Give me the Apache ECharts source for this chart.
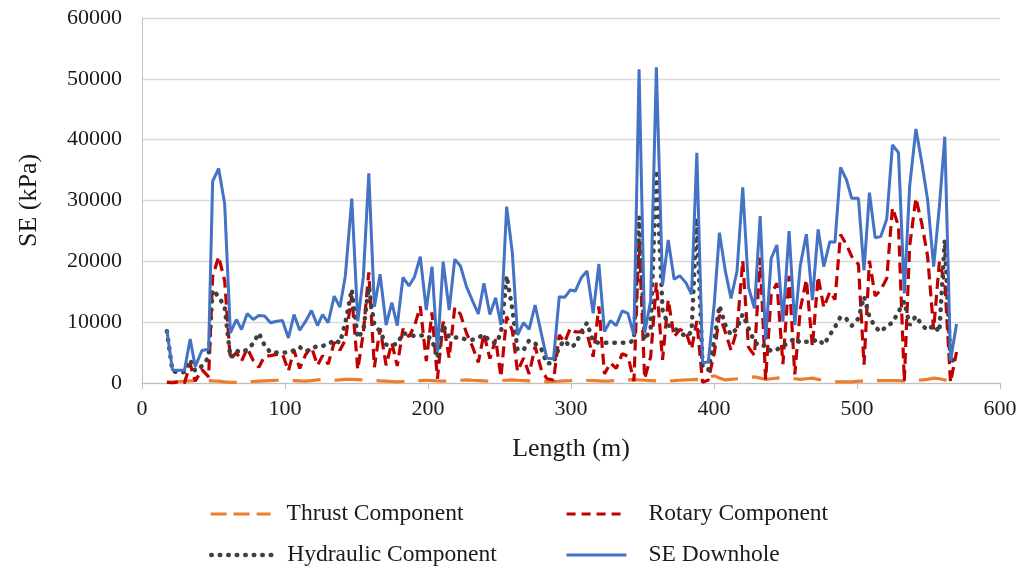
<!DOCTYPE html>
<html><head><meta charset="utf-8">
<script src="https://cdn.jsdelivr.net/npm/echarts@6/dist/echarts.min.js"></script>
<style>html,body{margin:0;padding:0;background:#fff}#c{width:1023px;height:573px}</style>
</head><body><div id="c"></div>
<script>
const lengthM = [17.4,21.3,25.5,29.7,33.7,37.2,41.9,46.6,49.4,53.6,
57.8,61.8,66,69.6,73.6,77.8,81.7,85.7,89.9,94.2,
98.2,102.4,106.3,110.3,114.5,118.5,122.7,126.3,130.2,134.4,
138.4,142.2,146.7,150.9,154.8,158.6,162.5,166.5,170.7,174.7,
178.5,182.5,186.7,190.6,194.6,198.8,202.8,206.6,210.6,214.8,
218.7,222.7,226.9,230.9,235.2,239.1,243.3,247.3,251,255,
259,262.6,266.8,270.7,274.9,279.1,283.1,287.8,291.8,295.6,
299.5,303,307.2,311.2,315.5,319.5,323.4,327.6,331.6,335.8,
339.8,344,347.6,351.5,355.7,359.7,364,368,372.1,376.1,
380.3,384.3,388,392,396,400.2,403.8,408,411.9,416.1,
420.1,424.1,428.3,432.3,436.1,440,444,448.2,452.5,456.5,
460.4,464.6,468.8,472.8,476.8,481,484.6,488.5,492.7,496.3,
501,504.9,508.7,512.7,516.6,520.8,524.8,529,533.1,536.8,
541.2,545.4,549.4,553.6,557.6,561.4,565.4,569.6];

const seDownhole = [8700,2150,2100,2100,7230,2700,5350,5550,33160,35260,
29470,8230,10430,8780,11420,10430,11100,11000,9900,10160,
10270,7400,11250,8670,10160,11920,9450,11250,9900,14290,
12470,17600,30300,10160,17480,34470,12540,17870,9530,13200,
9430,17370,15950,17480,20770,12000,19120,5150,19940,12000,
20330,19230,15830,13640,11340,16390,11250,14020,9530,28990,
21320,7890,9900,8830,12820,8270,4060,4000,14190,14090,
15290,15120,17310,18410,11460,19560,8440,10250,9430,11840,
11460,7890,51570,8270,13500,51900,16110,23510,17050,17640,
16500,14580,37860,3340,3450,13100,24710,18300,13920,18410,
32170,15780,12270,27450,7070,20500,22690,10080,24990,9530,
19400,24490,13640,25260,19120,23230,23120,35460,33370,30360,
30360,18500,31290,23890,24060,26960,39130,37860,14740,32280,
41760,36120,30080,19120,28990,40490,3670,9700];

const hydraulic = [8500,2000,1700,1800,3800,2000,2800,4200,15300,14200,
12500,4200,5300,5000,5500,6500,8200,6200,5000,5000,
5000,5000,5400,5900,5200,5600,6100,6100,6300,7100,
6600,9900,15400,7400,8700,15800,9500,8500,6300,6300,
6400,8200,8000,7700,7800,7900,7100,4100,9500,7500,
7500,7500,7100,7100,7500,7900,6900,6500,8100,17600,
12200,5500,5400,7000,6500,5700,3200,3300,6000,7000,
5900,6300,8400,9900,6800,6600,6600,6600,6600,6600,
6600,7000,27300,7100,8800,35000,12000,9500,9000,8400,
7600,8400,27100,2800,2100,7000,12700,9500,7900,9000,
11300,9000,6800,6000,6200,5200,5500,6100,6600,7400,
6600,6800,6800,7200,6300,7900,9200,10900,10500,9400,
10600,14200,10900,9200,8400,9400,9900,11700,13400,9500,
11000,9500,8700,9500,8400,23500,3400,4300];

const rotary = [100,0,200,0,3100,300,2200,1000,17500,20800,
16800,3900,5000,3600,5700,3700,2600,4400,4500,4700,
4800,2000,5400,2400,4700,5900,2900,4500,3100,6700,
5400,7100,14300,2200,8300,18200,2600,9000,2900,6600,
2800,8900,7600,9400,12600,3600,11600,700,10100,4100,
12400,11300,8200,6100,3400,8100,4000,7200,1000,10900,
8600,1900,4100,1500,6000,2300,700,500,7900,6700,
9000,8400,8400,8100,4300,12600,1500,3300,2400,4800,
4400,300,23800,700,4300,16500,3800,13700,7600,8800,
8400,5600,10200,100,500,4900,11200,8300,5400,8700,
20100,5900,4500,20600,600,14600,16400,3100,17600,1400,
12200,17000,6000,17500,12400,15000,13700,24400,22700,20800,
19500,3000,20100,14300,15300,17200,28800,25800,300,22500,
30400,26100,20800,8800,19900,16500,100,5100];

const thrust = [150,200,250,300,350,400,400,400,350,300,
200,100,100,150,200,250,300,350,400,450,
450,450,400,350,300,400,500,600,500,450,
500,600,600,550,500,450,400,350,300,250,
200,250,300,350,400,450,400,350,300,350,
400,450,500,450,400,350,300,350,400,450,
500,450,400,350,300,250,200,250,300,350,
400,450,500,450,400,350,300,350,400,450,
500,550,500,450,400,350,300,350,400,450,
500,550,600,400,900,1200,800,500,600,700,
800,900,1000,800,600,700,800,900,800,700,
600,700,800,600,400,300,200,200,200,200,
300,300,300,400,400,400,400,400,300,300,
400,500,600,800,700,500,400,300];

const seriesNames = ['Thrust Component','Rotary Component','Hydraulic Component','SE Downhole'];
const xAxisName = 'Length (m)';
const yAxisName = 'SE (kPa)';

const FONT = 'Liberation Serif';
const TXT = '#1a1a1a';
const pairs = a => lengthM.map((x, i) => [x, a[i]]);

const styles = [
  {color:'#ED7D31', width:3.2, type:[28,14], cap:'butt'},
  {color:'#C00000', width:3.2, type:[11,6], cap:'butt'},
  {color:'#404040', width:4.5, type:[0.5,8], cap:'round'},
  {color:'#4472C4', width:3, type:'solid', cap:'butt'}
];
const legendDash = [[16,7], [9,6], [0.5,8], 'solid'];
const dataArr = [thrust, rotary, hydraulic, seDownhole];

const series = seriesNames.map((n, i) => ({
  name: n, type: 'line', data: pairs(dataArr[i]),
  symbol: 'none', showSymbol: false, animation: false, z: 2 + i,
  lineStyle: styles[i], itemStyle: {color: styles[i].color}
}));

const legendPos = [[209, 502, 11], [565, 502, 17], [209, 543, 11], [565, 543, 17]];
const legends = seriesNames.map((n, i) => ({
  data: [n], left: legendPos[i][0], top: legendPos[i][1],
  itemWidth: 60, itemHeight: 22, padding: 0,
  itemStyle: {opacity: 0, borderWidth: 0},
  lineStyle: {width: styles[i].width, type: legendDash[i], cap: styles[i].cap, color: styles[i].color},
  textStyle: {fontFamily: FONT, fontSize: 23.5, color: TXT, padding: [0, 0, 0, legendPos[i][2]]}
}));

const chart = echarts.init(document.getElementById('c'));
chart.setOption({
  backgroundColor: '#fff',
  animation: false,
  grid: {left: 142, right: 23, top: 18, bottom: 190},
  legend: legends,
  xAxis: {
    type: 'value', min: 0, max: 600, interval: 100,
    axisLine: {lineStyle: {color: '#bfbfbf', width: 1}},
    axisTick: {show: true, length: 6, lineStyle: {color: '#bfbfbf'}},
    splitLine: {show: false},
    axisLabel: {color: TXT, fontFamily: FONT, fontSize: 22, margin: 15},
    name: xAxisName, nameLocation: 'middle', nameGap: 53,
    nameTextStyle: {color: TXT, fontFamily: FONT, fontSize: 26}
  },
  yAxis: {
    type: 'value', min: 0, max: 60000, interval: 10000,
    axisLine: {show: true, lineStyle: {color: '#bfbfbf', width: 1}},
    axisTick: {show: false},
    splitLine: {lineStyle: {color: '#d9d9d9', width: 1.3}},
    axisLabel: {color: TXT, fontFamily: FONT, fontSize: 22, margin: 20, formatter: v => String(v)},
    name: yAxisName, nameLocation: 'middle', nameGap: 100, nameRotate: 90,
    nameTextStyle: {color: TXT, fontFamily: FONT, fontSize: 26}
  },
  series: series
});
</script></body></html>
